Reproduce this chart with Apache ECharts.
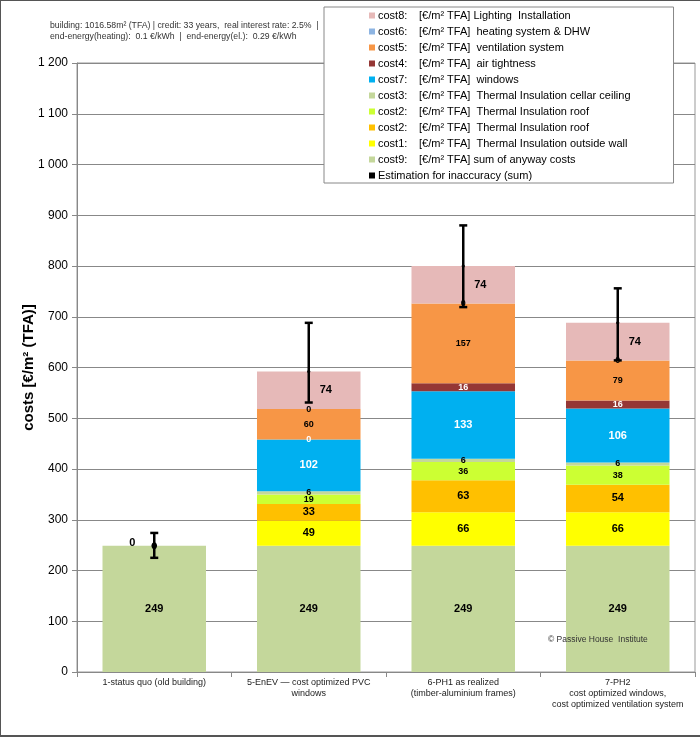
<!DOCTYPE html>
<html>
<head>
<meta charset="utf-8">
<script src="https://cdn.jsdelivr.net/npm/echarts@6/dist/echarts.min.js"></script>
<style>
html,body{margin:0;padding:0;background:#fff;}
#wrap{position:relative;width:700px;height:737px;}
#chart{position:absolute;left:0;top:0;width:700px;height:737px;}
#frame{position:absolute;left:0;top:0;width:700px;height:737px;box-sizing:border-box;border-left:1px solid #555;border-top:1px solid #555;border-bottom:2px solid #555;pointer-events:none;}
</style>
</head>
<body>
<div id="wrap"><div id="chart"></div><div id="frame"></div></div>
<script>
const categories = [
  '1-status quo (old building)',
  '5-EnEV \u2014 cost optimized PVC\nwindows',
  '6-PH1 as realized\n(timber-aluminium frames)',
  '7-PH2\ncost optimized windows,\ncost optimized ventilation system'
];
const yTicks = [0, 100, 200, 300, 400, 500, 600, 700, 800, 900, 1000, 1100, 1200];

// stack order bottom -> top
const seriesKeys   = ['cost9', 'cost1', 'cost2o', 'cost2r', 'cost3', 'cost7', 'cost4', 'cost5', 'cost6', 'cost8'];
const seriesCodes  = ['cost9:', 'cost1:', 'cost2:', 'cost2:', 'cost3:', 'cost7:', 'cost4:', 'cost5:', 'cost6:', 'cost8:'];
const seriesTexts  = [
  '[\u20ac/m\u00b2 TFA] sum of anyway costs',
  '[\u20ac/m\u00b2 TFA]  Thermal Insulation outside wall',
  '[\u20ac/m\u00b2 TFA]  Thermal Insulation roof',
  '[\u20ac/m\u00b2 TFA]  Thermal Insulation roof',
  '[\u20ac/m\u00b2 TFA]  Thermal Insulation cellar ceiling',
  '[\u20ac/m\u00b2 TFA]  windows',
  '[\u20ac/m\u00b2 TFA]  air tightness',
  '[\u20ac/m\u00b2 TFA]  ventilation system',
  '[\u20ac/m\u00b2 TFA]  heating system & DHW',
  '[\u20ac/m\u00b2 TFA] Lighting  Installation'
];
const cost9 = [249, 249, 249, 249];
const cost1 = [0, 49, 66, 66];
const cost2o = [0, 33, 63, 54];
const cost2r = [0, 19, 36, 38];
const cost3 = [0, 6, 6, 6];
const cost7 = [0, 102, 133, 106];
const cost4 = [0, 0, 16, 16];
const cost5 = [0, 60, 157, 79];
const cost6 = [0, 0, 0, 0];
const cost8 = [0, 74, 74, 74];
const seriesValues = [cost9, cost1, cost2o, cost2r, cost3, cost7, cost4, cost5, cost6, cost8];

// error bar (estimation for inaccuracy of the sum)
const errCenter = [249, 592, 800, 688];
const errLow  = [225, 531, 719, 614];
const errHigh = [274, 688, 880, 756];
const errName = 'Estimation for inaccuracy (sum)';

const colors = ['#c4d79b', '#ffff00', '#ffc000', '#ccff33', '#c4d79b', '#00b0f0', '#953735', '#f79646', '#8db4e2', '#e6b9b8'];
const bigLabel = [true, true, true, false, false, true, false, false, false, true];
const whiteLabel = [false, false, false, false, false, true, true, false, false, false];

const FONT = 'Liberation Sans, Arial, sans-serif';

const legendMap = {};
seriesKeys.forEach((k, i) => { legendMap[k] = '{a|' + seriesCodes[i] + '}{b|' + seriesTexts[i] + '}'; });
legendMap[errName] = '{b|' + errName + '}';

const barSeries = seriesKeys.map((k, i) => {
  const data = seriesValues[i].map((v, j) => {
    const item = { value: v };
    if (j === 0 && i !== 0) {
      if (k === 'cost8') item.label = { show: true, offset: [-22, -3] };
      else item.label = { show: false };
    }
    return item;
  });
  return {
    name: k,
    type: 'bar',
    stack: 'total',
    barWidth: '67%',
    data: data,
    itemStyle: { color: colors[i] },
    emphasis: { disabled: true },
    label: {
      show: true,
      position: 'inside',
      color: whiteLabel[i] ? '#fff' : '#000',
      fontFamily: FONT,
      fontWeight: 'bold',
      fontSize: bigLabel[i] ? 11 : 9,
      offset: k === 'cost8' ? [17, 0] : [0, 0],
      formatter: p => String(p.value)
    },
    z: 2
  };
});

const errSeries = {
  name: errName,
  type: 'custom',
  itemStyle: { color: '#000' },
  data: categories.map((c, j) => [j, errLow[j], errHigh[j], errCenter[j]]),
  encode: { x: 0, y: [1, 2] },
  z: 10,
  renderItem: function (params, api) {
    const x = api.value(0);
    const lo = api.coord([x, api.value(1)]);
    const hi = api.coord([x, api.value(2)]);
    const ce = api.coord([x, api.value(3)]);
    const cap = 4;
    const st = { stroke: '#000', lineWidth: 2.5 };
    const big = params.dataIndex === 0;
    return {
      type: 'group',
      children: [
        { type: 'line', shape: { x1: lo[0], y1: lo[1], x2: hi[0], y2: hi[1] }, style: st },
        { type: 'line', shape: { x1: lo[0] - cap, y1: lo[1], x2: lo[0] + cap, y2: lo[1] }, style: st },
        { type: 'line', shape: { x1: hi[0] - cap, y1: hi[1], x2: hi[0] + cap, y2: hi[1] }, style: st },
        { type: 'ellipse', shape: { cx: ce[0], cy: ce[1], rx: big ? 2.8 : 1.6, ry: big ? 3.5 : 1.6 }, style: { fill: '#000' } }
      ]
    };
  }
};

const legendData = seriesKeys.slice().reverse().map(k => ({ name: k, icon: 'rect' }));
legendData.push({ name: errName, icon: 'path://M2,2h4v4h-4z' });

const chart = echarts.init(document.getElementById('chart'));
chart.setOption({
  animation: false,
  backgroundColor: '#fff',
  textStyle: { fontFamily: FONT },
  grid: { left: 77, right: 5, top: 63, bottom: 65, show: true, borderColor: '#999', borderWidth: 1, backgroundColor: 'transparent' },
  legend: {
    orient: 'vertical',
    left: 324,
    top: 7,
    padding: [3, 43, 2, 45],
    itemWidth: 6,
    itemHeight: 6,
    itemGap: 5,
    backgroundColor: '#fff',
    borderColor: '#888',
    borderWidth: 1,
    selectedMode: false,
    data: legendData,
    formatter: name => legendMap[name],
    textStyle: {
      fontFamily: FONT,
      fontSize: 11,
      color: '#000',
      lineHeight: 11,
      padding: [0, 0, 0, -2],
      rich: {
        a: { width: 41, fontSize: 11, fontFamily: FONT, color: '#000', lineHeight: 11 },
        b: { fontSize: 11, fontFamily: FONT, color: '#000', lineHeight: 11 }
      }
    }
  },
  xAxis: {
    type: 'category',
    data: categories,
    axisLine: { lineStyle: { color: '#888', width: 1 } },
    axisTick: { show: true, length: 5, lineStyle: { color: '#888' } },
    axisLabel: { fontFamily: FONT, fontSize: 9, color: '#222', lineHeight: 11, margin: 5, interval: 0 }
  },
  yAxis: {
    type: 'value',
    min: 0,
    max: 1200,
    interval: 100,
    name: 'costs [\u20ac/m\u00b2 (TFA)]',
    nameLocation: 'middle',
    nameGap: 41,
    nameMoveOverlap: false,
    nameTextStyle: { fontFamily: FONT, fontSize: 15, fontWeight: 'bold', color: '#000' },
    axisLine: { show: true, lineStyle: { color: '#888' } },
    axisTick: { show: true, length: 5, lineStyle: { color: '#888' } },
    splitLine: { show: true, lineStyle: { color: '#888', width: 1 } },
    axisLabel: {
      fontFamily: FONT, fontSize: 12, color: '#000', margin: 9,
      customValues: yTicks,
      formatter: v => v >= 1000 ? Math.floor(v / 1000) + ' ' + String(v % 1000).padStart(3, '0') : String(v)
    }
  },
  graphic: [
    { type: 'text', left: 50, top: 20, z: 100, style: { text: 'building: 1016.58m\u00b2 (TFA) | credit: 33 years,  real interest rate: 2.5%  |\nend-energy(heating):  0.1 \u20ac/kWh  |  end-energy(el.):  0.29 \u20ac/kWh', font: '8.7px ' + FONT, fill: '#333', lineHeight: 11 } },
    { type: 'text', left: 548, top: 635, z: 100, style: { text: '\u00a9 Passive House  Institute', font: '8.5px ' + FONT, fill: '#333' } }
  ],
  series: barSeries.concat([errSeries])
});
</script>
</body>
</html>
